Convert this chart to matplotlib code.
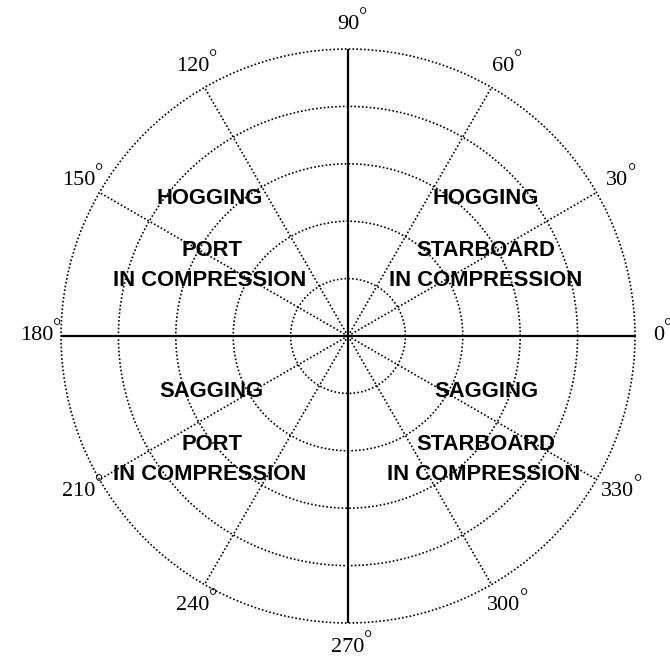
import numpy as np
import matplotlib
matplotlib.use("Agg")
import matplotlib.pyplot as plt

angle_ticks = [0, 30, 60, 90, 120, 150, 180, 210, 240, 270, 300, 330]
ring_radii = [1, 2, 3, 4, 5]
axis_angles = [0, 90, 180, 270]

# quadrant annotations: (x_px, y_px, text)
quad_labels = [
    (210, 198, "HOGGING"), (212, 250, "PORT"), (210, 281, "IN COMPRESSION"),
    (486, 198, "HOGGING"), (486, 250, "STARBOARD"), (486, 281, "IN COMPRESSION"),
    (211, 392, "SAGGING"), (212, 444, "PORT"), (210, 474, "IN COMPRESSION"),
    (486, 392, "SAGGING"), (486, 444, "STARBOARD"), (484, 474, "IN COMPRESSION"),
]

W, H = 670, 666
cx, cy, R = 348, 336, 287
fig = plt.figure(figsize=(W/100, H/100), dpi=100)
ax = fig.add_axes([(cx-R)/W, (H-cy-R)/H, 2*R/W, 2*R/H], projection='polar')
ax.set_ylim(0, 5)
ax.set_yticks(ring_radii)
ax.set_yticklabels([])
ax.set_xticks(np.deg2rad(angle_ticks))
ax.set_xticklabels([])
ax.grid(True, linestyle=(0, (1, 1.3)), color='black', linewidth=1.2)
for ln in ax.yaxis.get_gridlines() + ax.xaxis.get_gridlines():
    ln.set_clip_on(False)
ax.spines['polar'].set_visible(False)

for a in axis_angles:
    ax.plot([np.deg2rad(a), np.deg2rad(a)], [0, 5], color='black', lw=1.6, solid_capstyle='butt')

for a in angle_ticks:
    s = str(a)
    th = np.deg2rad(a)
    ax.text(th, 5.42, s, ha='center', va='center', fontsize=16,
            family='Liberation Serif', clip_on=False)
    ax.annotate('°', xy=(th, 5.42), xytext=(len(s) * 5.4 + 4, 7),
                textcoords='offset pixels', ha='center', va='center',
                fontsize=15, family='Liberation Serif', annotation_clip=False)

for x, y, t in quad_labels:
    fig.text(x/W, 1 - y/H, t, ha='center', va='center', fontsize=15.8,
             fontweight='bold', family='Liberation Sans')

fig.savefig('out.png', dpi=100, facecolor='white')
